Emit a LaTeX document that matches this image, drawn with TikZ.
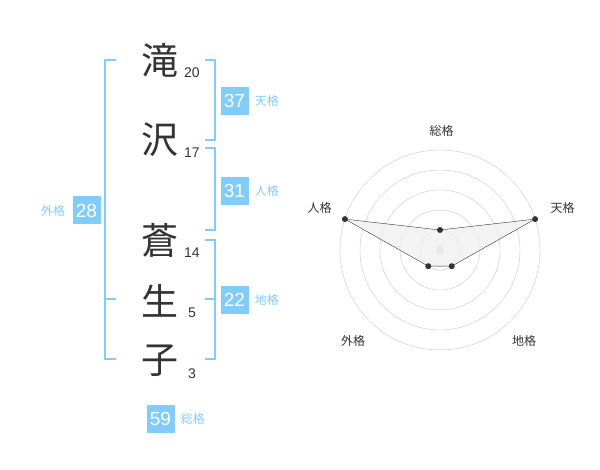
\documentclass[tikz,border=0pt]{standalone}
\usepackage{fontspec}
\setmainfont{Liberation Sans}
\newfontfamily\jp{Noto Sans CJK JP}
\usetikzlibrary{positioning}
\definecolor{kakublue}{HTML}{82CCFA}
\definecolor{inkgray}{HTML}{333333}
\begin{document}
\begin{tikzpicture}%
	[x=1pt, y=-1pt,
	kanji/.style={font=\jp\fontsize{37}{37}\selectfont, text=inkgray, inner sep=0pt},
	strokes/.style={font=\fontsize{14}{14}\selectfont, text=inkgray, inner sep=0pt, anchor=base},
	bracket/.style={draw=kakublue, line width=2pt},
	valbox/.style={fill=kakublue, text=white, minimum size=28pt, inner sep=0pt, font=\fontsize{19}{19}\selectfont},
	kaku/.style={text=kakublue, font=\jp\fontsize{12}{12}\selectfont, inner sep=0pt},
	ring/.style={draw=black!22, thin},
	axis/.style={text=inkgray, font=\jp\fontsize{12}{12}\selectfont, inner sep=0pt},
	dot/.style={circle, fill=inkgray, inner sep=0pt, minimum size=6pt}]
%
\useasboundingbox (0,0) rectangle (600,470);
%
%% The name and its stroke counts:
%%
\node[kanji] (k1) at (160,60)  {滝};
\node[kanji] (k2) at (160,140) {沢};
\node[kanji] (k3) at (160,240) {蒼};
\node[kanji] (k4) at (160,301) {生};
\node[kanji] (k5) at (160,361) {子};
\node[strokes] (n1) at (192,78)  {20};
\node[strokes] (n2) at (192,158) {17};
\node[strokes] (n3) at (192,258) {14};
\node[strokes] (n4) at (192,318) {5};
\node[strokes] (n5) at (192,378) {3};
%%
%%
%% Drawing the brackets
%%
\draw[bracket] (116,60) -- (105,60) -- (105,359.5) -- (116,359.5);
\draw[bracket] (105,299.5) -- (116,299.5);
\draw[bracket] (205,60) -- (215,60) -- (215,140) -- (205,140);
\draw[bracket] (205,148) -- (215,148) -- (215,230) -- (205,230);
\draw[bracket] (205,240) -- (215,240) -- (215,359.5) -- (205,359.5);
\draw[bracket] (205,299.5) -- (215,299.5);
%%
%%
%% Drawing the values
%%
\node[valbox] (ten)   at (234.5,101)   {37};
\node[valbox] (jin)   at (234.5,191)   {31};
\node[valbox] (chi)   at (234.5,300)   {22};
\node[valbox] (gai)   at (86.5,210.5)  {28};
\node[valbox] (sou)   at (160.5,419)   {59};
\node[kaku, right=6pt of ten] {天格};
\node[kaku, right=6pt of jin] {人格};
\node[kaku, right=6pt of chi] {地格};
\node[kaku, left=7pt of gai]  {外格};
\node[kaku, right=6pt of sou] {総格};
%%
%%
%% Drawing the radar chart (angles are negative, y runs down)
%%
\begin{scope}[shift={(440,250)}]
\foreach \r in {20,40,60,80,100}
	\draw[ring] (0,0) circle[radius=\r];
\fill[black!22] (0,0) circle[radius=4];
\coordinate (pSou) at (-90:20);
\coordinate (pTen) at (-18:100);
\coordinate (pChi) at (54:20);
\coordinate (pGai) at (126:20);
\coordinate (pJin) at (-162:100);
\filldraw[fill=black!6, fill opacity=0.8, draw=inkgray, thin]
	(pSou) -- (pTen) -- (pChi) -- (pGai) -- (pJin) -- cycle;
\foreach \p in {pSou,pTen,pChi,pGai,pJin}
	\node[dot] at (\p) {};
\end{scope}
\node[axis] (aSou) at (441.5,131) {総格};
\node[axis] (aTen) at (562.5,208) {天格};
\node[axis] (aJin) at (319.5,208) {人格};
\node[axis] (aGai) at (353,341)   {外格};
\node[axis] (aChi) at (524,341)   {地格};
%%
%%
\end{tikzpicture}
\end{document}
